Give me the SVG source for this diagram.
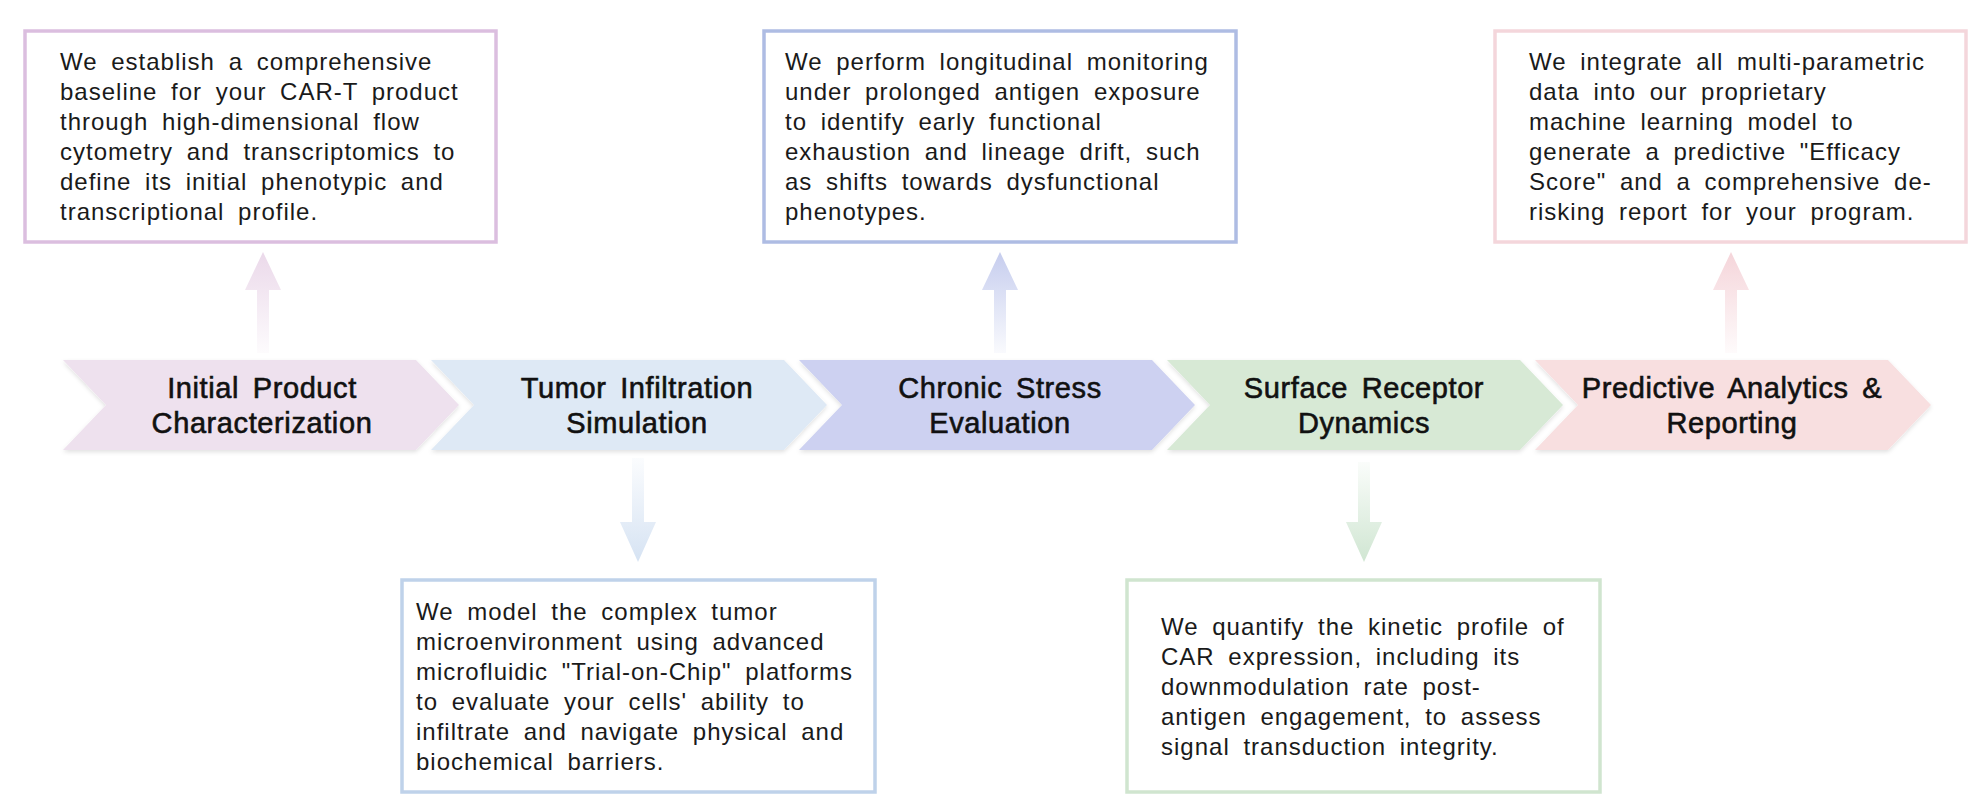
<svg xmlns="http://www.w3.org/2000/svg" width="1982" height="807" viewBox="0 0 1982 807">
<style>
.body{font-family:"Liberation Sans",Arial,sans-serif;font-size:24px;letter-spacing:1px;word-spacing:6px;fill:#1a1a1a}
.lab{font-family:"Liberation Sans",Arial,sans-serif;font-size:29px;letter-spacing:0.6px;word-spacing:5px;fill:#111;stroke:#111;stroke-width:0.6px;text-anchor:middle}
.box{fill:#fff;stroke-width:3.5}
</style>
<defs>
<filter id="sh" x="-5%" y="-10%" width="110%" height="130%">
<feDropShadow dx="0" dy="2" stdDeviation="2" flood-color="#000" flood-opacity="0.12"/>
</filter>
<linearGradient id="gu1" x1="0" y1="0" x2="0" y2="1"><stop offset="0" stop-color="#ebd9ea"/><stop offset="1" stop-color="#ebd9ea" stop-opacity="0.1"/></linearGradient>
<linearGradient id="gu3" x1="0" y1="0" x2="0" y2="1"><stop offset="0" stop-color="#c6cdee"/><stop offset="1" stop-color="#c6cdee" stop-opacity="0.1"/></linearGradient>
<linearGradient id="gu5" x1="0" y1="0" x2="0" y2="1"><stop offset="0" stop-color="#f5d5da"/><stop offset="1" stop-color="#f5d5da" stop-opacity="0.1"/></linearGradient>
<linearGradient id="gd2" x1="0" y1="0" x2="0" y2="1"><stop offset="0" stop-color="#d6e3f3" stop-opacity="0.1"/><stop offset="1" stop-color="#d6e3f3"/></linearGradient>
<linearGradient id="gd4" x1="0" y1="0" x2="0" y2="1"><stop offset="0" stop-color="#d0e6d2" stop-opacity="0.1"/><stop offset="1" stop-color="#d0e6d2"/></linearGradient>
</defs>
<rect width="1982" height="807" fill="#fff"/>

<g id="connectors">
<polygon fill="url(#gu1)" points="263,252 281,290 269,290 269,353 257,353 257,290 245,290"/>
<polygon fill="url(#gd2)" points="632,458 644,458 644,522 656,522 638,562 620,522 632,522"/>
<polygon fill="url(#gu3)" points="1000,252 1018,290 1006,290 1006,353 994,353 994,290 982,290"/>
<polygon fill="url(#gd4)" points="1358,462 1370,462 1370,522 1382,522 1364,562 1346,522 1358,522"/>
<polygon fill="url(#gu5)" points="1731,252 1749,290 1737,290 1737,353 1725,353 1725,290 1713,290"/>
</g>

<g id="step1">
<polygon filter="url(#sh)" fill="#eee1ee" points="63,360 416,360 459,405 416,450 63,450 106,405"/>
<text class="lab" x="262" y="398">Initial Product</text>
<text class="lab" x="262" y="433">Characterization</text>
</g>
<g id="step2">
<polygon filter="url(#sh)" fill="#dee9f5" points="431,360 784,360 827,405 784,450 431,450 474,405"/>
<text class="lab" x="637" y="398">Tumor Infiltration</text>
<text class="lab" x="637" y="433">Simulation</text>
</g>
<g id="step3">
<polygon filter="url(#sh)" fill="#cdd1f1" points="799,360 1152,360 1195,405 1152,450 799,450 842,405"/>
<text class="lab" x="1000" y="398">Chronic Stress</text>
<text class="lab" x="1000" y="433">Evaluation</text>
</g>
<g id="step4">
<polygon filter="url(#sh)" fill="#d7e9d5" points="1167,360 1520,360 1563,405 1520,450 1167,450 1210,405"/>
<text class="lab" x="1364" y="398">Surface Receptor</text>
<text class="lab" x="1364" y="433">Dynamics</text>
</g>
<g id="step5">
<polygon filter="url(#sh)" fill="#f8dfe0" points="1535,360 1888,360 1931,405 1888,450 1535,450 1578,405"/>
<text class="lab" x="1732" y="398">Predictive Analytics &amp;</text>
<text class="lab" x="1732" y="433">Reporting</text>
</g>

<g id="box1">
<rect class="box" stroke="#dbbedf" x="25" y="31" width="471" height="211"/>
<text class="body" x="60" y="70">We establish a comprehensive</text>
<text class="body" x="60" y="100">baseline for your CAR-T product</text>
<text class="body" x="60" y="130">through high-dimensional flow</text>
<text class="body" x="60" y="160">cytometry and transcriptomics to</text>
<text class="body" x="60" y="190">define its initial phenotypic and</text>
<text class="body" x="60" y="220">transcriptional profile.</text>
</g>
<g id="box2">
<rect class="box" stroke="#aebce3" x="764" y="31" width="472" height="211"/>
<text class="body" x="785" y="70">We perform longitudinal monitoring</text>
<text class="body" x="785" y="100">under prolonged antigen exposure</text>
<text class="body" x="785" y="130">to identify early functional</text>
<text class="body" x="785" y="160">exhaustion and lineage drift, such</text>
<text class="body" x="785" y="190">as shifts towards dysfunctional</text>
<text class="body" x="785" y="220">phenotypes.</text>
</g>
<g id="box3">
<rect class="box" stroke="#f4d6db" x="1495" y="31" width="471" height="211"/>
<text class="body" x="1529" y="70">We integrate all multi-parametric</text>
<text class="body" x="1529" y="100">data into our proprietary</text>
<text class="body" x="1529" y="130">machine learning model to</text>
<text class="body" x="1529" y="160">generate a predictive "Efficacy</text>
<text class="body" x="1529" y="190">Score" and a comprehensive de-</text>
<text class="body" x="1529" y="220">risking report for your program.</text>
</g>
<g id="box4">
<rect class="box" stroke="#bfd2ea" x="402" y="580" width="473" height="212"/>
<text class="body" x="416" y="620">We model the complex tumor</text>
<text class="body" x="416" y="650">microenvironment using advanced</text>
<text class="body" x="416" y="680">microfluidic "Trial-on-Chip" platforms</text>
<text class="body" x="416" y="710">to evaluate your cells' ability to</text>
<text class="body" x="416" y="740">infiltrate and navigate physical and</text>
<text class="body" x="416" y="770">biochemical barriers.</text>
</g>
<g id="box5">
<rect class="box" stroke="#d0e5cf" x="1127" y="580" width="473" height="212"/>
<text class="body" x="1161" y="635">We quantify the kinetic profile of</text>
<text class="body" x="1161" y="665">CAR expression, including its</text>
<text class="body" x="1161" y="695">downmodulation rate post-</text>
<text class="body" x="1161" y="725">antigen engagement, to assess</text>
<text class="body" x="1161" y="755">signal transduction integrity.</text>
</g>
</svg>
